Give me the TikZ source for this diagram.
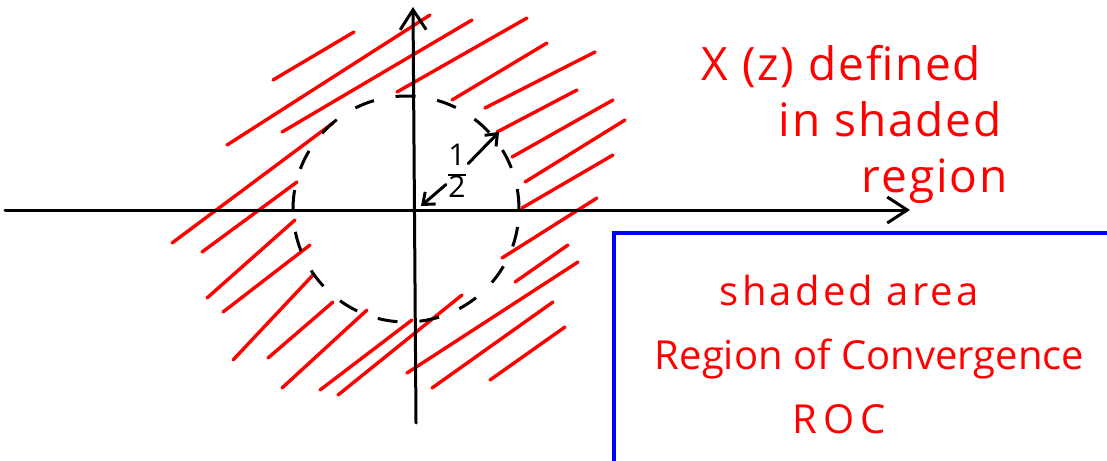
\documentclass[tikz,border=0pt]{standalone}
\usepackage{fontspec}
\setmainfont{Open Sans}
\newfontfamily\handfont[LetterSpace=4]{Open Sans}
\usetikzlibrary{arrows.meta}
\definecolor{penred}{HTML}{FF0000}
\definecolor{penblue}{HTML}{0000FF}
\tikzset{
  every picture/.style={line width=3pt, line cap=round},
  axis/.style={-{Straight Barb[length=20pt, width=26pt]}, draw=black, line width=3pt},
  hatch/.style={draw=penred, line width=3.4pt},
  rim/.style={draw=black, line width=3pt, line cap=butt, dash pattern=on 20pt off 22pt},
  radius arrow/.style={-{Straight Barb[length=10pt, width=16pt]}, draw=black, line width=3pt},
  frame/.style={draw=penblue, line width=3.4pt, line cap=butt},
  note/.style={text=penred, align=left, anchor=north west},
}

\begin{document}
\begin{tikzpicture}[x=1pt, y=-1pt]
  \useasboundingbox (0,0) rectangle (1107,460);
  % shading of the region |z| > 1/2
  \foreach \xa/\ya/\xb/\yb in {273/80/354/32, 227/145/430/15, 282/132/472/20,
    397/92/527/18, 452/100/547/43, 485/108/595/52, 497/132/577/90,
    512/157/613/100, 525/182/625/120, 522/208/613/155, 502/258/597/198,
    515/282/568/245, 407/373/578/262, 432/388/553/302, 490/380/565/327,
    338/395/462/295, 320/390/412/320, 282/388/367/310, 268/358/333/302,
    233/360/313/275, 223/312/310/245, 207/298/295/220, 202/252/297/182,
    172/243/333/123}
    \draw[hatch] (\xa,\ya) -- (\xb,\yb);
  % axes
  \coordinate (o) at (413,210);
  \coordinate (xl) at (5,210);
  \coordinate (xr) at (910,210);
  \coordinate (yb) at (416,423);
  \coordinate (yt) at (413,7);
  \draw[axis] (xl) -- (xr);
  \draw[axis] (yb) -- (yt);
  % circle of radius 1/2
  \draw[rim] (406,209) circle[radius=113pt];
  \node[font=\fontsize{30}{30}\selectfont, inner sep=1pt] (half) at (457,175)
    {\arrayrulewidth=2.6pt\renewcommand\arraystretch{0.85}\begin{tabular}{@{}c@{}}1\\\hline 2\end{tabular}};
  \coordinate (rs) at (421,206);
  \coordinate (re) at (499,132);
  \draw[radius arrow] (half) -- (rs);
  \draw[radius arrow] (half) -- (re);
  % notes
  \node[note, font=\handfont\fontsize{46}{56}\selectfont] (xz) at (697,40)
    {X (z) defined\\\hspace*{77pt}in shaded\\\hspace*{160pt}region};
  \draw[frame] (1109,233) -| (614,462);
  \node[note, font=\fontsize{40}{64}\selectfont] (roc) at (650,270)
    {\hspace*{65pt}{\addfontfeature{LetterSpace=8}shaded area}\\Region of Convergence\\\hspace*{138pt}{\addfontfeature{LetterSpace=15}ROC}};
\end{tikzpicture}
\end{document}
